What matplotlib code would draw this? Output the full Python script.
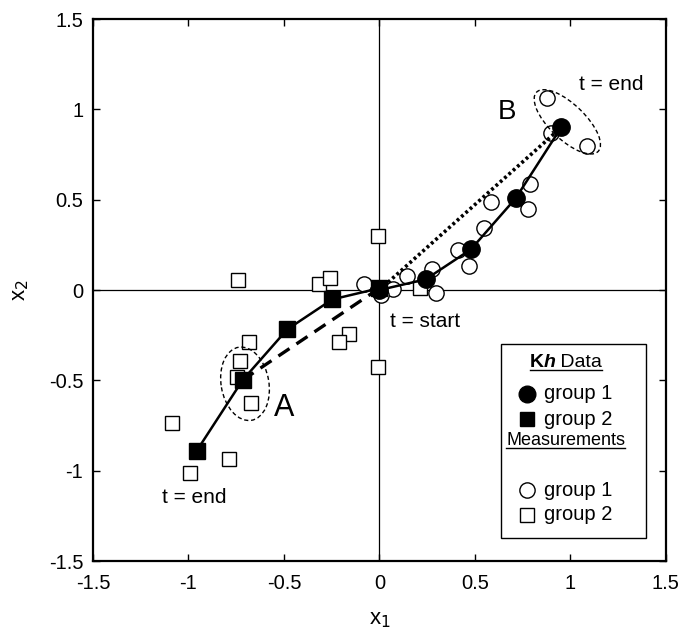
import numpy as np
import matplotlib
matplotlib.use("Agg")
import matplotlib.pyplot as plt
from matplotlib.patches import Ellipse, Rectangle

plt.rcParams['font.family'] = ['Liberation Sans', 'DejaVu Sans']

# --- Kh data (trajectories) ---
kh1_x = [0.0, 0.242, 0.479, 0.713, 0.952]
kh1_y = [0.0, 0.059, 0.225, 0.507, 0.900]
kh2_x = [0.0, -0.247, -0.483, -0.716, -0.957]
kh2_y = [0.01, -0.052, -0.218, -0.498, -0.890]

# --- Measurements ---
meas1_x = [0.875, 0.896, 1.085, 0.788, 0.776, 0.584, 0.547, 0.409, 0.470,
           0.276, 0.296, 0.146, 0.072, -0.081, 0.010]
meas1_y = [1.061, 0.867, 0.797, 0.587, 0.447, 0.489, 0.341, 0.221, 0.135,
           0.116, -0.018, 0.077, 0.007, 0.033, -0.028]
meas2_x = [-0.739, -0.315, -0.258, -0.683, -0.730, -0.745, -0.674, -0.160,
           -0.210, -0.010, -1.088, -0.790, -0.990, -0.010, 0.210]
meas2_y = [0.055, 0.031, 0.065, -0.286, -0.391, -0.480, -0.627, -0.243,
           -0.286, -0.428, -0.734, -0.937, -1.015, 0.300, 0.010]

tick_vals = [-1.5, -1, -0.5, 0, 0.5, 1, 1.5]
tick_labels = ['-1.5', '-1', '-0.5', '0', '0.5', '1', '1.5']

fig = plt.figure(figsize=(6.8, 6.3), dpi=100)
ax = fig.add_axes([0.1368, 0.1095, 0.8424, 0.8603])
ax.set_xlim(-1.5, 1.5)
ax.set_ylim(-1.5, 1.5)

# cross hairs
ax.axhline(0, color='black', lw=0.9, zorder=1)
ax.axvline(0, color='black', lw=0.9, zorder=1)

# measurements
ax.plot(meas1_x, meas1_y, 'o', ms=11, mfc='white', mec='black', mew=1.0, ls='none', zorder=2)
ax.plot(meas2_x, meas2_y, 's', ms=10, mfc='white', mec='black', mew=1.0, ls='none', zorder=2)

# straight lines start -> end (group 1) and start -> A (group 2)
ax.plot([kh1_x[0], kh1_x[-1]], [kh1_y[0], kh1_y[-1]], color='black', lw=2.6,
        ls=(0, (0.8, 0.8)), zorder=3)
ax.plot([kh2_x[0], kh2_x[3]], [kh2_y[0], kh2_y[3]], color='black', lw=2.4,
        ls=(0, (4, 2.5)), zorder=3)

# trajectories
ax.plot(kh1_x, kh1_y, '-', color='black', lw=1.8, zorder=4)
ax.plot(kh2_x, kh2_y, '-', color='black', lw=1.8, zorder=4)
ax.plot(kh1_x, kh1_y, 'o', ms=12.5, color='black', ls='none', zorder=5)
ax.plot(kh2_x, kh2_y, 's', ms=11, color='black', ls='none', zorder=5)

# ellipses
ax.add_patch(Ellipse((-0.704, -0.519), 0.41, 0.25, angle=-81, fill=False,
                     ls=(0, (3, 2)), lw=1.0, ec='black', zorder=3))
ax.add_patch(Ellipse((0.984, 0.931), 0.46, 0.19, angle=-46, fill=False,
                     ls=(0, (3, 2)), lw=1.0, ec='black', zorder=3))

# annotations
ax.text(-0.497, -0.653, 'A', fontsize=22, ha='center', va='center')
ax.text(0.668, 0.987, 'B', fontsize=20, ha='center', va='center')
ax.text(1.216, 1.14, 't = end', fontsize=15, ha='center', va='center')
ax.text(-0.971, -1.151, 't = end', fontsize=15, ha='center', va='center')
ax.text(0.24, -0.175, 't = start', fontsize=15, ha='center', va='center')

# axes styling
ax.set_xticks(tick_vals)
ax.set_yticks(tick_vals)
ax.set_xticklabels(tick_labels)
ax.set_yticklabels(tick_labels)
ax.tick_params(direction='in', length=5, width=1, top=True, right=True,
               labelsize=14.5, pad=7)
ax.tick_params(axis='x', pad=9)
for s in ax.spines.values():
    s.set_linewidth(1.6)
ax.set_xlabel(r'x$_1$', fontsize=16, labelpad=12)
ax.set_ylabel(r'x$_2$', fontsize=16, labelpad=13)

# --- hand-made legend box ---
ax.add_patch(Rectangle((0.7115, 0.0424), 0.2545, 0.3576, transform=ax.transAxes,
                       fill=True, fc='white', ec='black', lw=1.0, zorder=6))
fig.canvas.draw()
renderer = fig.canvas.get_renderer()
inv = ax.transAxes.inverted()


def width_axes(t):
    bb = t.get_window_extent(renderer)
    return inv.transform((bb.x1, 0))[0] - inv.transform((bb.x0, 0))[0]


# heading "Kh Data" built from pieces
hy = 0.358
pieces = [('K', 'bold', 'normal'), ('h', 'bold', 'italic'), (' Data', 'normal', 'normal')]
objs = []
for s, w, st in pieces:
    t = ax.text(0, hy, s, transform=ax.transAxes, fontsize=14, fontweight=w,
                fontstyle=st, ha='left', va='baseline', zorder=7)
    objs.append(t)
fig.canvas.draw()
widths = [width_axes(t) for t in objs]
cx = 0.8255 - sum(widths) / 2
start = cx
for t, w in zip(objs, widths):
    t.set_x(cx)
    cx += w
ax.plot([start, cx], [hy - 0.006, hy - 0.006], transform=ax.transAxes,
        color='black', lw=1.0, zorder=7)

my = 0.214
mt = ax.text(0.8255, my, 'Measurements', transform=ax.transAxes, fontsize=13,
             ha='center', va='baseline', zorder=7)
fig.canvas.draw()
mw = width_axes(mt)
ax.plot([0.8255 - mw / 2, 0.8255 + mw / 2], [my - 0.006, my - 0.006],
        transform=ax.transAxes, color='black', lw=1.0, zorder=7)

mk_x = 0.757
tx = 0.787
rows = [(0.309, 'o', 'black', 12), (0.262, 's', 'black', 10.5),
        (0.131, 'o', 'white', 11), (0.085, 's', 'white', 9.5)]
for y, m, fc, ms in rows:
    ax.plot([mk_x], [y], m, ms=ms, mfc=fc, mec='black', mew=1.0,
            transform=ax.transAxes, zorder=7)
    ax.text(tx, y, 'group ' + ('1' if m == 'o' else '2'), transform=ax.transAxes,
            fontsize=14.5, ha='left', va='center', zorder=7)

fig.savefig('out.png', dpi=100)
